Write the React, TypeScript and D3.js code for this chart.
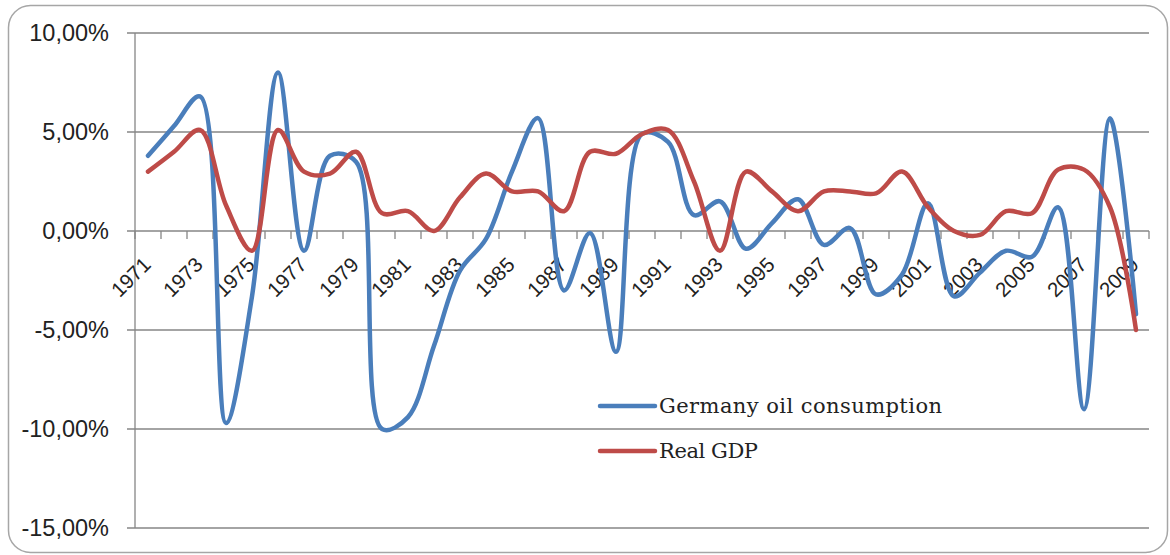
import React from "react";
import * as d3 from "d3";

const years: number[] = [];
for (let y = 1971; y <= 2009; y++) years.push(y);

const oilConsumption = [
  3.8, 5.3, 6.8, -9.7, -3.3, 8.0, -1.0, 3.8, 3.5, -10.0,
  -9.4, -5.8, -2.0, -0.4, 3.0, 5.7, -3.0, -0.1, -6.1, 4.9,
  4.5, 0.8, 1.5, -0.9, 0.4, 1.6, -0.7, 0.15, -3.2, -2.2,
  1.4, -3.3, -2.1, -1.0, -1.3, 1.2, -9.0, 5.7, -4.2,
];

const realGDP = [
  3.0, 4.0, 5.1, 1.3, -1.0, 5.1, 3.0, 2.9, 4.0, 0.9,
  1.0, 0.0, 1.7, 2.9, 2.0, 2.0, 1.0, 4.0, 3.9, 4.9,
  5.1, 2.5, -1.0, 3.0, 2.0, 1.0, 2.0, 2.0, 1.9, 3.0,
  1.2, 0.0, -0.2, 1.0, 0.9, 3.1, 3.1, 1.2, -5.0,
];

const yTicks = [-15, -10, -5, 0, 5, 10];
const seriesNames = ["Germany oil consumption", "Real GDP"];
const seriesColors = ["#4A7EBB", "#BE4B48"];

const W = 1170;
const H = 555;

export default function App() {
  const x = d3
    .scalePoint<number>()
    .domain(years)
    .range([135, 1149])
    .padding(0.5);
  const step = x.step();
  const y = d3.scaleLinear().domain([-15, 10]).range([528, 33]);

  const line = d3
    .line<number>()
    .x((_, i) => x(years[i]) as number)
    .y((d) => y(d))
    .curve(d3.curveCatmullRom.alpha(0.5));

  const fmt = (v: number) => v.toFixed(2).replace(".", ",") + "%";
  const tickXs = d3.range(years.length + 1).map((k) => 135 + k * step);
  const axisColor = "#868686";

  return (
    <svg
      width={W}
      height={H}
      style={{ position: "absolute", left: 0, top: 0 }}
    >
      <rect x={0} y={0} width={W} height={H} fill="#fff" />
      <rect
        x={8.5}
        y={5.5}
        width={1159}
        height={547}
        rx={22}
        fill="#fff"
        stroke="#a6a6a6"
        strokeWidth={1.5}
      />
      {yTicks.map((t) => (
        <line
          key={"g" + t}
          x1={127}
          x2={1149}
          y1={y(t)}
          y2={y(t)}
          stroke={axisColor}
          strokeWidth={1.3}
        />
      ))}
      <line x1={135} x2={135} y1={y(10)} y2={y(-15)} stroke={axisColor} strokeWidth={1.3} />
      {tickXs.map((tx, k) => (
        <line
          key={"t" + k}
          x1={tx}
          x2={tx}
          y1={y(0)}
          y2={y(0) + 8}
          stroke={axisColor}
          strokeWidth={1.3}
        />
      ))}
      {yTicks.map((t) => (
        <text
          key={"yl" + t}
          x={109}
          y={y(t)}
          dy="0.36em"
          textAnchor="end"
          fontFamily="'Liberation Sans', Arial, sans-serif"
          fontSize={23.5}
          fill="#222"
        >
          {fmt(t)}
        </text>
      ))}
      {years.map((yr, i) =>
        i % 2 === 0 ? (
          <text
            key={"xl" + yr}
            transform={`translate(${(x(yr) as number) + 4},${266}) rotate(-45)`}
            textAnchor="end"
            fontFamily="'Liberation Sans', Arial, sans-serif"
            fontSize={20.5}
            fill="#222"
          >
            {yr}
          </text>
        ) : null
      )}
      <path
        d={line(oilConsumption) || ""}
        fill="none"
        stroke={seriesColors[0]}
        strokeWidth={4.5}
        strokeLinejoin="round"
        strokeLinecap="round"
      />
      <path
        d={line(realGDP) || ""}
        fill="none"
        stroke={seriesColors[1]}
        strokeWidth={4.5}
        strokeLinejoin="round"
        strokeLinecap="round"
      />
      {seriesNames.map((name, i) => (
        <g key={name} transform={`translate(0,${406 + i * 45})`}>
          <line x1={600} x2={655} y1={0} y2={0} stroke={seriesColors[i]} strokeWidth={4.5} strokeLinecap="round" />
          <text
            x={659}
            y={0}
            dy="0.35em"
            fontFamily="'DejaVu Serif', serif"
            fontSize={21}
            fill="#222"
            textLength={i === 0 ? 283 : 99}
            lengthAdjust="spacing"
          >
            {name}
          </text>
        </g>
      ))}
    </svg>
  );
}
